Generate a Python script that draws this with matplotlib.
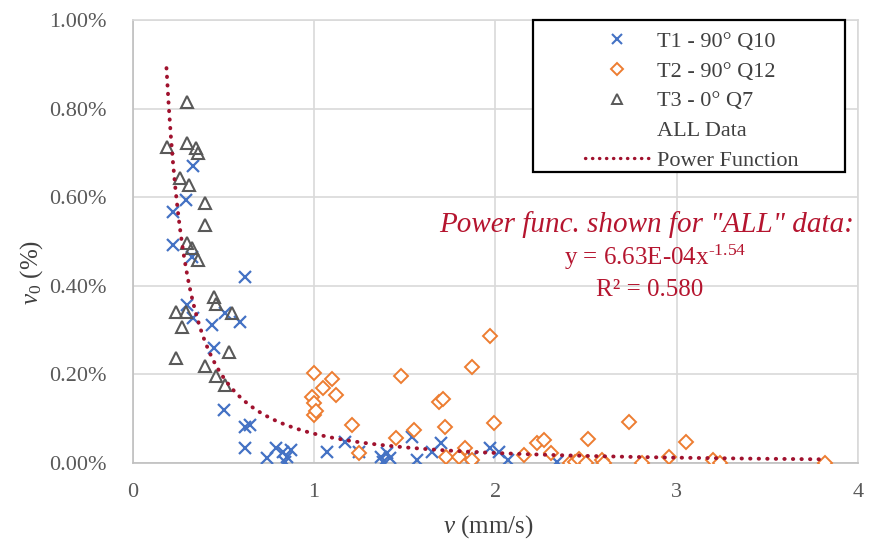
import numpy as np
import matplotlib
matplotlib.use("Agg")
import matplotlib.pyplot as plt
from matplotlib.lines import Line2D
from matplotlib.patches import Rectangle
from matplotlib.ticker import FuncFormatter, MultipleLocator

plt.rcParams['font.family'] = 'Liberation Serif'
plt.rcParams['mathtext.fontset'] = 'custom'
plt.rcParams['mathtext.rm'] = 'Liberation Serif'
plt.rcParams['mathtext.it'] = 'Liberation Serif:italic'

# data: velocity (mm/s) and v0 (%)
t1_x = [0.33, 0.29, 0.22, 0.22, 0.325, 0.617, 0.30, 0.33, 0.435, 0.507, 0.59, 0.45,
        0.50, 0.645, 0.62, 0.62, 0.74, 0.79, 0.83, 0.85, 0.87, 0.84, 1.07, 1.17,
        1.25, 1.37, 1.40, 1.42, 1.38, 1.54, 1.57, 1.65, 1.70, 1.87, 1.97, 2.02,
        2.07, 2.34]
t1_y = [0.670, 0.594, 0.567, 0.492, 0.465, 0.420, 0.357, 0.327, 0.312, 0.338, 0.318, 0.260,
        0.120, 0.086, 0.081, 0.034, 0.011, 0.034, 0.025, 0.014, 0.030, 0.003, 0.025, 0.047,
        0.025, 0.014, 0.023, 0.011, 0.002, 0.059, 0.007, 0.025, 0.045, 0.014, 0.034, 0.025,
        0.007, 0.002]

t2_x = [1.00, 0.99, 1.00, 1.00, 1.01, 1.05, 1.10, 1.12, 1.21, 1.25, 1.48, 1.45,
        1.55, 1.69, 1.71, 1.72, 1.73, 1.80, 1.83, 1.87, 1.87, 1.97, 1.99, 2.16,
        2.23, 2.27, 2.31, 2.41, 2.44, 2.46, 2.50, 2.51, 2.59, 2.60, 2.74, 2.81,
        2.96, 3.05, 3.20, 3.24, 3.82]
t2_y = [0.203, 0.149, 0.135, 0.108, 0.118, 0.169, 0.190, 0.153, 0.086, 0.022, 0.196, 0.056,
        0.074, 0.138, 0.145, 0.081, 0.014, 0.014, 0.034, 0.217, 0.007, 0.287, 0.090, 0.018,
        0.045, 0.052, 0.022, 0.000, 0.002, 0.009, 0.000, 0.054, 0.007, 0.000, 0.093, 0.000,
        0.014, 0.047, 0.007, 0.000, 0.000]

t3_x = [0.30, 0.19, 0.30, 0.35, 0.36, 0.26, 0.31, 0.40, 0.40, 0.30, 0.325, 0.36,
        0.45, 0.46, 0.24, 0.29, 0.27, 0.545, 0.237, 0.40, 0.46, 0.51, 0.53]
t3_y = [0.815, 0.713, 0.722, 0.710, 0.700, 0.643, 0.628, 0.587, 0.537, 0.497, 0.485, 0.458,
        0.375, 0.360, 0.340, 0.340, 0.307, 0.338, 0.237, 0.220, 0.196, 0.176, 0.250]

# power fit y = a * x^b (a in fraction, plotted in %)
fit_a = 6.63e-04
fit_b = -1.54
fit_x = np.linspace(0.185, 3.8, 300)
fit_y = fit_a * 100 * fit_x ** fit_b

red = '#A0122E'
txt_red = '#B5152F'
grid_c = '#D9D9D9'

fig = plt.figure(figsize=(8.69, 5.48), dpi=100, facecolor='white')
ax = fig.add_axes([0.153, 0.155, 0.834, 0.8085])

ax.plot(t1_x, t1_y, linestyle='none', marker='x', ms=8.5, mew=1.6, color='#4472C4', zorder=3)
ax.plot(t2_x, t2_y, linestyle='none', marker='D', ms=7, mew=1.4, mfc='white',
        mec='#ED7D31', zorder=3)
ax.plot(t3_x, t3_y, linestyle='none', marker='^', ms=9, mew=1.5, mfc='none',
        mec='#595959', zorder=3)
ax.plot(fit_x, fit_y, color=red, lw=2.8, linestyle=(0, (0.1, 2.1)),
        dash_capstyle='round', zorder=4)

ax.set_xlim(0, 4)
ax.set_ylim(0, 1.0)
ax.xaxis.set_major_locator(MultipleLocator(1))
ax.yaxis.set_major_locator(MultipleLocator(0.2))
ax.yaxis.set_major_formatter(FuncFormatter(lambda v, p: f'{v:.2f}%'))
ax.grid(True, color=grid_c, lw=1.2)
ax.set_axisbelow(True)
for s in ax.spines.values():
    s.set_color(grid_c)
    s.set_linewidth(1.2)
ax.spines['left'].set_color('#BFBFBF')
ax.spines['bottom'].set_color('#BFBFBF')
ax.tick_params(length=0, labelsize=16, labelcolor='#595959')
ax.tick_params(axis='y', pad=19)
ax.tick_params(axis='x', pad=14)

ax.set_xlabel(r'$v$ (mm/s)', fontsize=18, color='#404040')
ax.set_ylabel(r'$v_0$ (%)', fontsize=18, color='#404040')
ax.xaxis.set_label_coords(0.49, -0.113)
ax.yaxis.set_label_coords(-0.122, 0.43)

# annotation
ax.text(0.995, 0.539, 'Power func. shown for "ALL" data:', transform=ax.transAxes,
        ha='right', va='center', fontsize=21, style='italic', color=txt_red)
ax.text(0.721, 0.464, r'y = 6.63E-04x$^{\text{-1.54}}$', transform=ax.transAxes,
        ha='center', va='center', fontsize=18, color=txt_red)
ax.text(0.713, 0.390, 'R² = 0.580', transform=ax.transAxes,
        ha='center', va='center', fontsize=18, color=txt_red)

# legend box drawn separately so it can match the wide Excel frame
ax.add_patch(Rectangle((0.5517, 0.657), 0.4303, 0.343, transform=ax.transAxes,
                       facecolor='white', edgecolor='black', lw=1.6, zorder=5,
                       clip_on=False))
handles = [
    Line2D([], [], linestyle='none', marker='x', ms=7, mew=1.5, color='#4472C4'),
    Line2D([], [], linestyle='none', marker='D', ms=6, mew=1.4, mfc='white', mec='#ED7D31'),
    Line2D([], [], linestyle='none', marker='^', ms=7.5, mew=1.4, mfc='none', mec='#595959'),
    Line2D([], [], linestyle='none'),
    Line2D([], [], color=red, lw=2.4, linestyle=(0, (0.1, 2.0)), dash_capstyle='round'),
]
labels = ['T1 - 90° Q10', 'T2 - 90° Q12', 'T3 - 0° Q7', 'ALL Data', 'Power Function']
leg = ax.legend(handles, labels, loc='upper left', bbox_to_anchor=(0.6234, 0.975),
                fontsize=16, frameon=False, handlelength=2.9, handletextpad=0.36,
                labelspacing=0.42, borderpad=0.0, borderaxespad=0.0)
leg.set_zorder(6)
for t in leg.get_texts():
    t.set_color('#404040')

fig.savefig('out.png', dpi=100, facecolor='white')
